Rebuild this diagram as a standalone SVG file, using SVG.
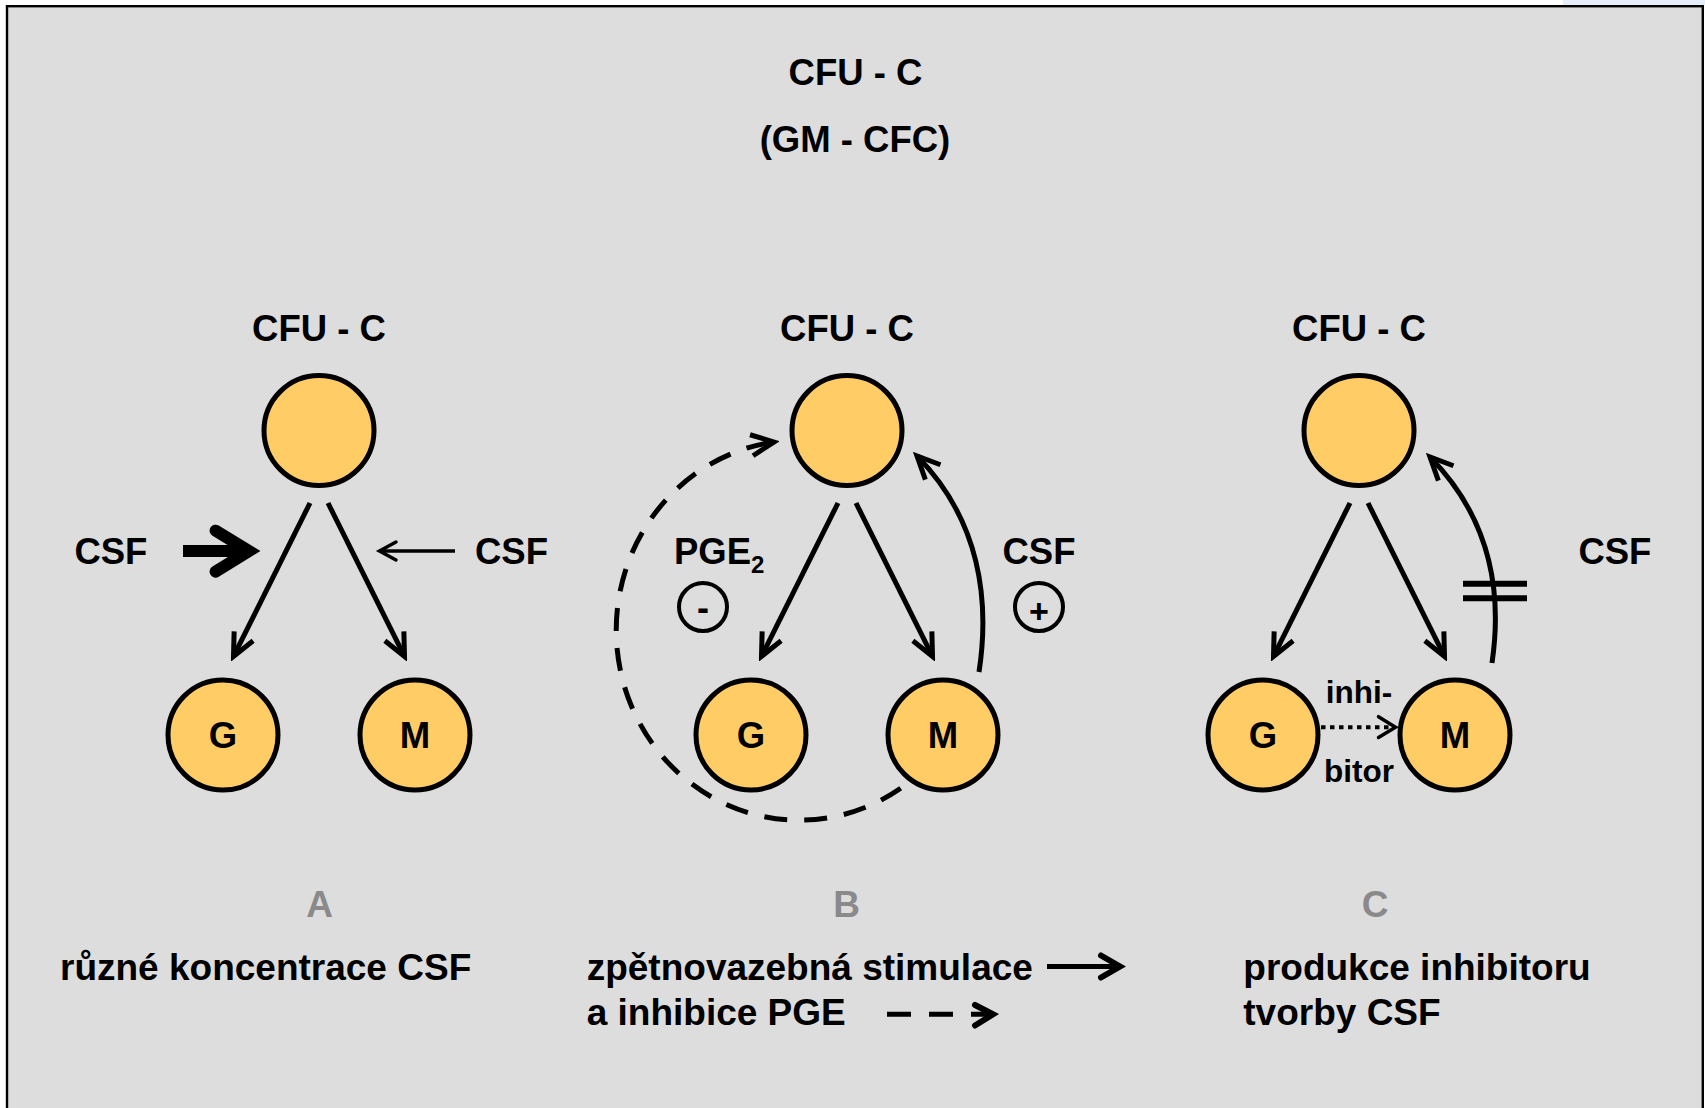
<svg xmlns="http://www.w3.org/2000/svg" width="1705" height="1108" viewBox="0 0 1705 1108">
<style>
text{font-family:"Liberation Sans",Arial,"Noto Sans",sans-serif;font-weight:bold;fill:#000}
.t{font-size:36.5px}
.lbl{font-size:37px}
.mid{text-anchor:middle}
.gray{fill:#8a8a8a}
.cell{fill:#FFCC66;stroke:#000;stroke-width:5}
.edge{fill:none;stroke:#000;stroke-width:5;stroke-linecap:butt}
.head{fill:none;stroke:#000;stroke-linejoin:miter;stroke-linecap:round}
.sign{fill:none;stroke:#000;stroke-width:4}
</style>
<defs>
<marker id="arr" viewBox="-30 -15 35 30" refX="0" refY="0" markerWidth="35" markerHeight="30" markerUnits="userSpaceOnUse" orient="auto">
<path d="M-22.7,-10.6 L0,0 L-22.7,10.6" fill="none" stroke="#000" stroke-width="5" stroke-linejoin="miter"/>
</marker>
</defs>
<rect x="0" y="0" width="1705" height="1108" fill="#ffffff"/>
<rect x="1563" y="0" width="142" height="5" fill="#e6eef9"/>
<rect x="7" y="6.2" width="1695.8" height="1110" fill="#dddddd" stroke="#000" stroke-width="2.4"/>

<g id="title">
<text class="t mid" x="855.5" y="85">CFU - C</text>
<text class="t mid" x="855" y="151.7">(GM - CFC)</text>
</g>

<g id="connectors">
<!-- panel A -->
<line class="edge" x1="310" y1="503" x2="233.5" y2="656.4" marker-end="url(#arr)"/>
<line class="edge" x1="328" y1="503" x2="404.5" y2="656.4" marker-end="url(#arr)"/>
<line x1="183" y1="551" x2="248" y2="551" stroke="#000" stroke-width="12"/>
<path class="head" d="M215.6,530.7 L249,551 L215.6,571.7" stroke-width="12"/>
<line x1="455" y1="551" x2="380" y2="551" stroke="#000" stroke-width="3.5"/>
<path class="head" d="M396,542 L379.5,551 L396,560" stroke-width="3.5"/>
<!-- panel B -->
<line class="edge" x1="838" y1="503" x2="761.5" y2="656.4" marker-end="url(#arr)"/>
<line class="edge" x1="856" y1="503" x2="932.5" y2="656.4" marker-end="url(#arr)"/>
<path class="edge" d="M979,672 C990,600 980,520 917,456" marker-end="url(#arr)"/>
<path class="edge" d="M900.7,788.3 A183 190 0 1 1 774,442" stroke-dasharray="23 17" marker-end="url(#arr)"/>
<!-- panel C -->
<line class="edge" x1="1350" y1="503" x2="1273.5" y2="656.4" marker-end="url(#arr)"/>
<line class="edge" x1="1368" y1="503" x2="1444.5" y2="656.4" marker-end="url(#arr)"/>
<path class="edge" d="M1492,663 C1502,595 1492,520 1430,457" marker-end="url(#arr)"/>
<line x1="1463" y1="583.7" x2="1527" y2="583.7" stroke="#000" stroke-width="6"/>
<line x1="1463" y1="598.3" x2="1527" y2="598.3" stroke="#000" stroke-width="6"/>
<line x1="1321" y1="727.3" x2="1393" y2="727.3" stroke="#000" stroke-width="4" stroke-dasharray="4.5 4.5"/>
<path class="head" d="M1378.5,716.7 L1395.5,727.3 L1378.5,737.5" stroke-width="3.5"/>
<!-- legend arrows -->
<line x1="1047" y1="966.5" x2="1118" y2="966.5" stroke="#000" stroke-width="5"/>
<path class="head" d="M1101,955.5 L1120,966.5 L1101,977.5" stroke-width="6"/>
<line x1="887" y1="1014.3" x2="993" y2="1014.3" stroke="#000" stroke-width="5" stroke-dasharray="24 18"/>
<path class="head" d="M975,1005 L993,1014.3 L975,1025.5" stroke-width="6"/>
</g>

<g id="panelA">
<text class="t mid" x="319" y="340.7">CFU - C</text>
<g id="A-cfu"><circle class="cell" cx="319" cy="430.5" r="55"/></g>
<g id="A-G"><circle class="cell" cx="223" cy="735" r="55"/><text class="t mid" x="223" y="748.3">G</text></g>
<g id="A-M"><circle class="cell" cx="415" cy="735" r="55"/><text class="t mid" x="415" y="748.3">M</text></g>
<text class="t" x="74.4" y="564">CSF</text>
<text class="t" x="475" y="564">CSF</text>
</g>

<g id="panelB">
<text class="t mid" x="847" y="340.7">CFU - C</text>
<g id="B-cfu"><circle class="cell" cx="847" cy="430.5" r="55"/></g>
<g id="B-G"><circle class="cell" cx="751" cy="735" r="55"/><text class="t mid" x="751" y="748.3">G</text></g>
<g id="B-M"><circle class="cell" cx="943" cy="735" r="55"/><text class="t mid" x="943" y="748.3">M</text></g>
<text class="t" x="674" y="564">PGE<tspan font-size="24" dy="9">2</tspan></text>
<text class="t" x="1002.5" y="564">CSF</text>
<g id="B-minus"><circle class="sign" cx="703" cy="607" r="24"/><text class="mid" font-size="36" x="703" y="619.5">-</text></g>
<g id="B-plus"><circle class="sign" cx="1039" cy="607" r="24"/><text class="mid" font-size="34" x="1039" y="622.5">+</text></g>
</g>

<g id="panelC">
<text class="t mid" x="1359" y="340.7">CFU - C</text>
<g id="C-cfu"><circle class="cell" cx="1359" cy="430.5" r="55"/></g>
<g id="C-G"><circle class="cell" cx="1263" cy="735" r="55"/><text class="t mid" x="1263" y="748.3">G</text></g>
<g id="C-M"><circle class="cell" cx="1455" cy="735" r="55"/><text class="t mid" x="1455" y="748.3">M</text></g>
<text class="t" x="1578.4" y="564">CSF</text>
<text class="mid" font-size="31.5" x="1359" y="703.3">inhi-</text>
<text class="mid" font-size="31.5" x="1359" y="781.7">bitor</text>
</g>

<g id="captions">
<text class="lbl mid gray" x="319.7" y="917.3">A</text>
<text class="lbl mid gray" x="846.7" y="916.5">B</text>
<text class="lbl mid gray" x="1375" y="916.7">C</text>
<text class="lbl" x="60" y="980">různé koncentrace CSF</text>
<text class="lbl" x="586.7" y="980">zpětnovazebná stimulace</text>
<text class="lbl" x="586.7" y="1025">a inhibice PGE</text>
<text class="lbl" x="1243.3" y="980">produkce inhibitoru</text>
<text class="lbl" x="1243.3" y="1025">tvorby CSF</text>
</g>
</svg>
